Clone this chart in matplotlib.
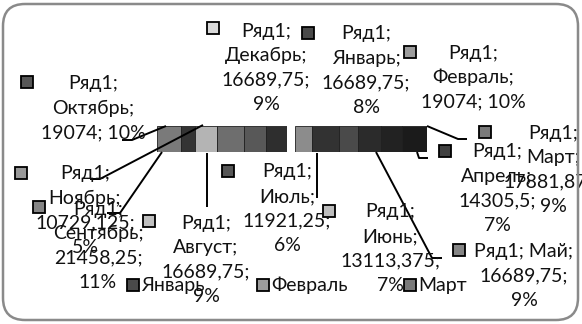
import matplotlib
matplotlib.use("Agg")
import matplotlib.pyplot as plt
from matplotlib.patches import FancyBboxPatch
from matplotlib.transforms import IdentityTransform

plt.rcParams['font.family'] = ['Lato', 'DejaVu Sans']

series = "Ряд1"
months = ["Январь", "Февраль", "Март", "Апрель", "Май", "Июнь",
          "Июль", "Август", "Сентябрь", "Октябрь", "Ноябрь", "Декабрь"]
values = [16689.75, 19074, 17881.875, 14305.5, 16689.75, 13113.375,
          11921.25, 16689.75, 21458.25, 19074, 10729.125, 16689.75]
percents = [8, 10, 9, 7, 9, 7, 6, 9, 11, 10, 5, 9]

# slice order along the visible band (left part / right part)
band_left = ["Октябрь", "Ноябрь", "Август", "Сентябрь", "Декабрь", "Январь"]
band_right = ["Июль", "Февраль", "Июнь", "Май", "Апрель", "Март"]

band_color = {"Октябрь": "#7a7a7a", "Ноябрь": "#343434", "Август": "#b4b4b4",
              "Сентябрь": "#6e6e6e", "Декабрь": "#585858", "Январь": "#2e2e2e",
              "Июль": "#8c8c8c", "Февраль": "#323232", "Июнь": "#4a4a4a",
              "Май": "#2b2b2b", "Апрель": "#222222", "Март": "#1b1b1b"}
marker_color = {"Январь": "#4a4a4a", "Февраль": "#9c9c9c", "Март": "#7a7a7a",
                "Апрель": "#404040", "Май": "#858585", "Июнь": "#bdbdbd",
                "Июль": "#575757", "Август": "#c0c0c0", "Сентябрь": "#858585",
                "Октябрь": "#575757", "Ноябрь": "#999999", "Декабрь": "#d9d9d9"}

# label layout: centre x, first line y, marker x, marker y, words per line
label_pos = {
    "Декабрь": (266, 31, 213, 28, [1, 1, 1, 1]),
    "Январь": (366, 34, 308, 33, [1, 1, 1, 1]),
    "Февраль": (473, 53, 410, 52, [1, 1, 2]),
    "Октябрь": (93, 84, 27, 82, [1, 1, 2]),
    "Март": (553, 133, 485, 132, [1, 1, 1, 1]),
    "Апрель": (497, 152, 445, 151, [1, 1, 1, 1]),
    "Ноябрь": (85, 174, 21, 173, [1, 1, 1, 1]),
    "Июль": (287, 172, 228, 171, [1, 1, 1, 1]),
    "Сентябрь": (98, 209, 39, 207, [1, 1, 1, 1]),
    "Август": (206, 223, 149, 221, [1, 1, 1, 1]),
    "Июнь": (390, 212, 329, 211, [1, 1, 1, 1]),
    "Май": (524, 251, 459, 250, [2, 1, 1]),
}
leaders = {
    "Октябрь": [(122, 140), (132, 140), (166, 126)],
    "Ноябрь": [(90, 179), (100, 179), (203, 125)],
    "Сентябрь": [(107, 213), (120, 213), (162, 152)],
    "Август": [(207, 153), (207, 207)],
    "Июль": [(317, 153), (317, 198)],
    "Июнь": [(376, 152), (432, 258), (442, 258)],
    "Апрель": [(417, 152), (419, 158), (428, 158)],
    "Март": [(427, 126), (458, 139), (467, 139)],
}


def fmt(v):
    s = ("%f" % v).rstrip("0").rstrip(".")
    return s.replace(".", ",")


fig = plt.figure(figsize=(5.82, 3.24), dpi=100)
fig.patch.set_facecolor("white")

# the pie seen edge-on: two stacked bands
for part, rect in [(band_left, [157 / 582, 1 - 152 / 324, 130 / 582, 26 / 324]),
                   (band_right, [295 / 582, 1 - 152 / 324, 132 / 582, 26 / 324])]:
    axb = fig.add_axes(rect)
    left = 0
    for m in part:
        v = values[months.index(m)]
        axb.barh(0, v, left=left, height=1, color=band_color[m],
                 edgecolor="#202020", linewidth=0.6)
        left += v
    axb.set_xlim(0, left)
    axb.set_ylim(-0.5, 0.5)
    axb.axis("off")

ax = fig.add_axes([0, 0, 1, 1], facecolor="none")
ax.set_xlim(0, 582)
ax.set_ylim(324, 0)
ax.axis("off")

frame = FancyBboxPatch((3, 4), 575, 316, boxstyle="round,pad=0,rounding_size=22",
                       transform=IdentityTransform(), facecolor="none",
                       edgecolor="#8a8a8a", linewidth=1.8)
fig.patches.append(frame)

for m, pts in leaders.items():
    xs, ys = zip(*pts)
    ax.plot(xs, ys, color="black", linewidth=1.4, solid_capstyle="butt")

for i, m in enumerate(months):
    cx, cy, mx, my, groups = label_pos[m]
    words = [series + ";", m + ";", fmt(values[i]) + ";", "%d%%" % percents[i]]
    lines = []
    k = 0
    for g in groups:
        lines.append(" ".join(words[k:k + g]))
        k += g
    for j, line in enumerate(lines):
        ax.text(cx, cy + j * 24.5, line, ha="center", va="center",
                fontsize=14, color="#111111")
    ax.plot(mx, my, marker="s", markersize=8, markerfacecolor=marker_color[m],
            markeredgecolor="black", markeredgewidth=1.3)

# truncated legend
for m, lx in zip(months[:3], [133, 263, 410]):
    ax.plot(lx, 285, marker="s", markersize=8, markerfacecolor=marker_color[m],
            markeredgecolor="black", markeredgewidth=1.3)
    ax.text(lx + 8, 285, m, ha="left", va="center", fontsize=14, color="#111111")

fig.savefig("out.png", dpi=100)
